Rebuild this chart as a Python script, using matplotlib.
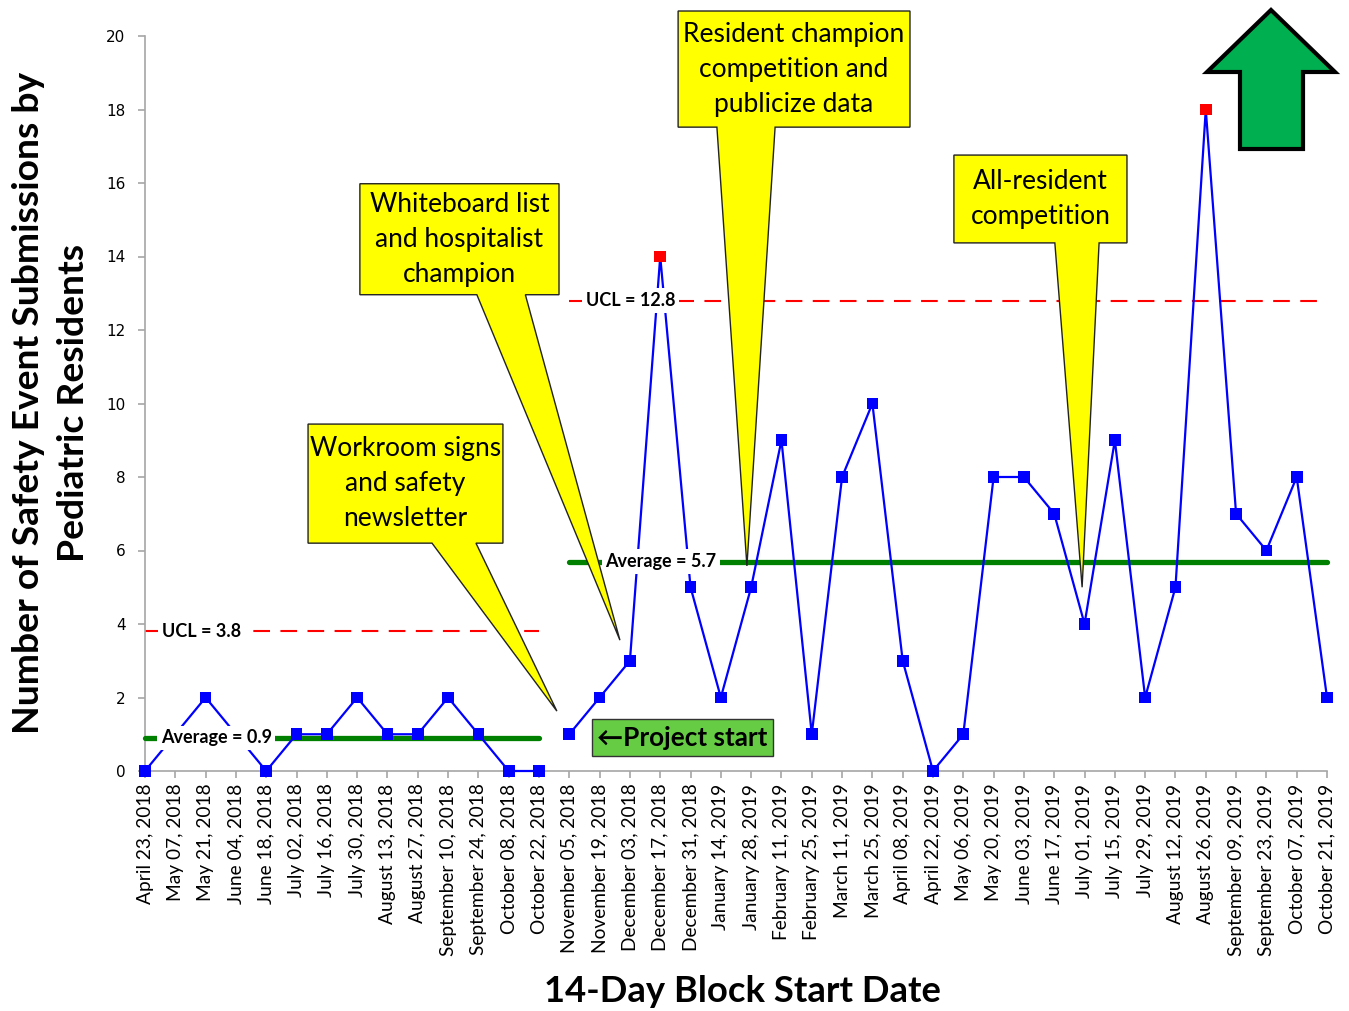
import numpy as np
import matplotlib
matplotlib.use('Agg')
import matplotlib.pyplot as plt
from matplotlib.patches import Polygon, Rectangle

plt.rcParams['font.family'] = ['Lato', 'DejaVu Sans']

# 14-day blocks
dates = ['April 23, 2018', 'May 07, 2018', 'May 21, 2018', 'June 04, 2018', 'June 18, 2018',
         'July 02, 2018', 'July 16, 2018', 'July 30, 2018', 'August 13, 2018', 'August 27, 2018',
         'September 10, 2018', 'September 24, 2018', 'October 08, 2018', 'October 22, 2018',
         'November 05, 2018', 'November 19, 2018', 'December 03, 2018', 'December 17, 2018',
         'December 31, 2018', 'January 14, 2019', 'January 28, 2019', 'February 11, 2019',
         'February 25, 2019', 'March 11, 2019', 'March 25, 2019', 'April 08, 2019',
         'April 22, 2019', 'May 06, 2019', 'May 20, 2019', 'June 03, 2019', 'June 17, 2019',
         'July 01, 2019', 'July 15, 2019', 'July 29, 2019', 'August 12, 2019', 'August 26, 2019',
         'September 09, 2019', 'September 23, 2019', 'October 07, 2019', 'October 21, 2019']

# baseline phase (before project start) and intervention phase
baseline = [0, 1, 2, 1, 0, 1, 1, 2, 1, 1, 2, 1, 0, 0]
intervention = [1, 2, 3, 14, 5, 2, 5, 9, 1, 8, 10, 3, 0, 1, 8, 8, 7, 4, 9, 2, 5, 18, 7, 6, 8, 2]

averages = [0.9, 5.7]
ucls = [3.8, 12.8]

W, H = 1349, 1011
fig = plt.figure(figsize=(W / 100, H / 100), dpi=100)
ax = fig.add_axes([145 / W, 1 - 771 / H, 1182 / W, 735 / H])

x_all = np.arange(len(dates))
phases = [(x_all[:len(baseline)], np.array(baseline)),
          (x_all[len(baseline):], np.array(intervention))]

label_style = dict(fontsize=13, fontweight='bold', ha='center', va='center', zorder=6,
                   bbox=dict(boxstyle='square,pad=0.2', fc='white', ec='none'))

for k, (xs, ys) in enumerate(phases):
    ax.plot([xs[0], xs[-1]], [ucls[k]] * 2, color='#FF0000', lw=1.5,
            dashes=(8, 5), zorder=2, clip_on=False)
    ax.plot([xs[0], xs[-1]], [averages[k]] * 2, color='#008000', lw=3.8,
            solid_capstyle='round', zorder=3, clip_on=False)
    ax.plot(xs, ys, color='#0000FF', lw=1.6, zorder=4, clip_on=False)
    colors = np.where(ys > ucls[k], '#FF0000', '#0000FF')
    ax.scatter(xs, ys, marker='s', s=70, c=colors, zorder=5, clip_on=False, linewidths=0)

ax.text(1.85, ucls[0], 'UCL = 3.8', **label_style)
ax.text(2.35, averages[0], 'Average = 0.9', **label_style)
ax.text(16.03, ucls[1], 'UCL = 12.8', **label_style)
ax.text(17.03, averages[1], 'Average = 5.7', **label_style)

ax.set_xlim(0, len(dates) - 1)
ax.set_ylim(0, 20)
ax.set_yticks(range(0, 21, 2))
ax.set_xticks(x_all)
ax.set_xticklabels(dates, rotation=90, fontsize=13.8)
for lbl in ax.get_yticklabels():
    lbl.set_fontfamily('DejaVu Sans')
    lbl.set_fontsize(11)
for side in ['top', 'right']:
    ax.spines[side].set_visible(False)
for side in ['left', 'bottom']:
    ax.spines[side].set_color('#A6A6A6')
    ax.spines[side].set_linewidth(1.2)
ax.tick_params(axis='both', color='#A6A6A6', length=5, width=1.2)
ax.tick_params(axis='y', pad=9)
ax.tick_params(axis='x', pad=4)


def callout(box, base, tip, text):
    x0, x1, ytop, ybot = box
    verts = [(x0, ytop), (x1, ytop), (x1, ybot), (base[1], ybot), tip,
             (base[0], ybot), (x0, ybot)]
    ax.add_patch(Polygon(verts, closed=True, fc='#FFFF00', ec='#222222', lw=1,
                         clip_on=False, zorder=10))
    ax.text((x0 + x1) / 2, (ytop + ybot) / 2, text, ha='center', va='center',
            fontsize=19, linespacing=1.5, zorder=11)


callout((5.38, 11.81, 9.44, 6.20), (9.47, 10.92), (13.59, 1.63),
        'Workroom signs\nand safety\nnewsletter')
callout((7.09, 13.66, 15.98, 12.96), (10.95, 12.55), (15.67, 3.56),
        'Whiteboard list\nand hospitalist\nchampion')
callout((17.59, 25.24, 20.68, 17.52), (18.87, 20.79), (19.86, 5.58),
        'Resident champion\ncompetition and\npublicize data')
callout((26.69, 32.40, 16.76, 14.37), (30.02, 31.48), (30.92, 5.0),
        'All-resident\ncompetition')

# project start marker
ax.add_patch(Rectangle((14.75, 0.41), 5.97, 1.0, fc='#66CC44', ec='#333333', lw=1,
                       clip_on=False, zorder=10))
ax.text(17.73, 0.91, '\u2190Project start', ha='center', va='center', fontsize=18.8,
        fontweight='bold', zorder=11)

# big green arrow (figure pixel coordinates)
arrow_px = [(1271, 10), (1335, 72), (1303, 72), (1303, 149), (1240, 149), (1240, 72), (1207, 72)]
arrow = [(px / W, 1 - py / H) for px, py in arrow_px]
fig.add_artist(Polygon(arrow, closed=True, fc='#00B050', ec='black', lw=3,
                       joinstyle='miter', transform=fig.transFigure))

fig.text(51 / W, 1 - 403 / H, 'Number of Safety Event Submissions by\nPediatric Residents',
         rotation=90, ha='center', va='center', fontsize=26.8, fontweight='bold',
         multialignment='center', linespacing=1.45)
fig.text(742 / W, 1 - 991 / H, '14-Day Block Start Date', ha='center', va='center',
         fontsize=26.2, fontweight='bold')

fig.savefig('out.png', dpi=100, facecolor='white')
